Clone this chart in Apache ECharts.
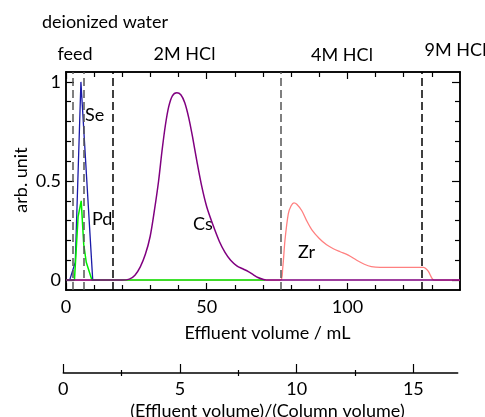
<!DOCTYPE html>
<html><head><meta charset="utf-8">
<script src="https://cdn.jsdelivr.net/npm/echarts@6/dist/echarts.min.js"></script>
<style>html,body{margin:0;padding:0;background:#fff}#c{width:485px;height:417px}</style>
</head><body><div id="c"></div>
<script>
// Data: [effluent volume (mL), arb. unit]
const seData = [[0,0],[1.3,0],[3.3,0.09],[5.3,1.0],[9.5,0],[12,0]];
const pdData = [[0,0],[3.0,0],[4.3,0.32],[5.4,0.40],[6.3,0.18],[7.2,0.09],[9.2,0],[70.8,0]];
const csData = [[0,0],[20,0],[22.5,0.005],[24.5,0.025],[26.4,0.067],[28.2,0.13],[29.9,0.22],[31.4,0.35],[32.9,0.5],[34.1,0.65],[35.3,0.78],[36.5,0.875],[37.8,0.93],[39.4,0.945],[40.8,0.935],[42.2,0.895],[43.6,0.82],[45,0.72],[46.5,0.6],[48.2,0.475],[50,0.37],[52.3,0.275],[54.5,0.195],[56.5,0.14],[58.5,0.1],[60.7,0.072],[62.8,0.057],[64.8,0.043],[66.5,0.028],[68.2,0.013],[70.2,0.003],[72,0],[140,0]];
const zrData = [[0,0],[76.2,0],[77,0.06],[77.8,0.2],[79,0.335],[80,0.375],[81,0.39],[82,0.383],[83.8,0.35],[85.5,0.3],[87.3,0.255],[90,0.21],[92.6,0.178],[95,0.158],[97.4,0.143],[100.3,0.126],[103.3,0.1],[106,0.08],[108.5,0.068],[111.6,0.064],[120,0.064],[127,0.064],[128.7,0.045],[130,0.01],[130.8,0],[140,0]];
const greyBoundaries = [2.5, 6.2, 76.3];
const blackBoundaries = [16.7, 126.5];
const xMajor = [0,50,100];
const xMinor = [10,20,30,40,60,70,80,90,110,120,130];
const yMajor = [0,0.5,1];
const yMinor = [0.1,0.2,0.3,0.4,0.6,0.7,0.8,0.9];
const cvMajor = [0,5,10,15];
const cvMinor = [2.5,7.5,12.5];
const xMin = 0, xMax = 140, yMin = -0.05, yMax = 1.05, cvMax = 16.9;

const FONT = 'Lato';
const FS = 18;
const black = '#000';

function xAx(pos, ticks, len, labels, extra) {
  return Object.assign({
    type:'value', gridIndex:0, position:pos, min:xMin, max:xMax,
    axisLine:{show:true, onZero:false, lineStyle:{color:black, width:1.5}},
    axisTick:{show:true, inside:true, length:len, customValues:ticks, lineStyle:{color:black, width:1.2}},
    axisLabel:labels ? {show:true, customValues:labels, color:black, fontFamily:FONT, fontSize:FS, margin:8} : {show:false},
    splitLine:{show:false}
  }, extra||{});
}
function yAx(pos, ticks, len, labels) {
  return {
    type:'value', gridIndex:0, position:pos, min:yMin, max:yMax,
    axisLine:{show:true, onZero:false, lineStyle:{color:black, width:1.5}},
    axisTick:{show:true, inside:true, length:len, customValues:ticks, lineStyle:{color:black, width:1.2}},
    axisLabel:labels ? {show:true, customValues:labels, color:black, fontFamily:FONT, fontSize:FS, margin:5} : {show:false},
    splitLine:{show:false}
  };
}
function bline(vals, color) {
  return vals.map(v => ({xAxis:v, lineStyle:{color:color, type:[8,4], width:1.5}}));
}

const chart = echarts.init(document.getElementById('c'), null, {renderer:'canvas'});
const txt = (t, x, y, extra) => ({type:'text', x:x, y:y, style:Object.assign({text:t, font:FS+'px '+FONT, fill:black, textVerticalAlign:'middle'}, extra||{})});

chart.setOption({
  animation:false,
  textStyle:{fontFamily:FONT},
  grid:[
    {left:66, right:25, top:72, bottom:127, containLabel:false},
    {left:63.3, right:27.3, top:372, height:1, containLabel:false}
  ],
  xAxis:[
    xAx('bottom', xMajor, 7, xMajor),
    xAx('bottom', xMinor, 5, null),
    xAx('top', xMajor, 7, null),
    xAx('top', xMinor, 5, null),
    {type:'value', gridIndex:1, position:'bottom', min:0, max:cvMax,
     axisLine:{show:true, lineStyle:{color:black, width:1.5}},
     axisTick:{show:true, inside:true, length:9, customValues:cvMajor, lineStyle:{color:black, width:1.2}},
     axisLabel:{show:true, customValues:cvMajor, color:black, fontFamily:FONT, fontSize:FS, margin:7},
     splitLine:{show:false}},
    {type:'value', gridIndex:1, position:'bottom', min:0, max:cvMax,
     axisLine:{show:false},
     axisTick:{show:true, inside:true, length:3, customValues:cvMinor, lineStyle:{color:black, width:1.2}},
     axisLabel:{show:false}, splitLine:{show:false}},
    {type:'value', gridIndex:1, position:'bottom', min:0, max:cvMax,
     axisLine:{show:false},
     axisTick:{show:true, inside:false, length:3, customValues:cvMinor, lineStyle:{color:black, width:1.2}},
     axisLabel:{show:false}, splitLine:{show:false}}
  ],
  yAxis:[
    yAx('left', yMajor, 8, yMajor),
    yAx('left', yMinor, 5, null),
    yAx('right', yMajor, 8, null),
    yAx('right', yMinor, 5, null),
    {type:'value', gridIndex:1, show:false, min:0, max:1}
  ],
  series:[
    {type:'line', name:'Zr', data:zrData, xAxisIndex:0, yAxisIndex:0, showSymbol:false, smooth:0.3,
     lineStyle:{color:'#ff8080', width:1.3}, z:2,
     markLine:{silent:true, symbol:'none', label:{show:false}, data:bline(greyBoundaries,'#555').concat(bline(blackBoundaries,'#000'))}},
    {type:'line', name:'Se', data:seData, xAxisIndex:0, yAxisIndex:0, showSymbol:false, lineStyle:{color:'#1a1aa8', width:1.3}, z:3},
    {type:'line', name:'Pd', data:pdData, xAxisIndex:0, yAxisIndex:0, showSymbol:false, lineStyle:{color:'#00ee00', width:1.5}, z:4},
    {type:'line', name:'Cs', data:csData, xAxisIndex:0, yAxisIndex:0, showSymbol:false, smooth:0.3, lineStyle:{color:'#800080', width:1.5}, z:5}
  ],
  graphic:[
    txt('deionized water', 42, 22),
    txt('feed', 75, 54, {textAlign:'center'}),
    txt('2M HCl', 184.5, 54, {textAlign:'center'}),
    txt('4M HCl', 342, 55, {textAlign:'center'}),
    txt('9M HCl', 455.5, 50, {textAlign:'center'}),
    txt('Se', 85, 115),
    txt('Pd', 92, 219),
    txt('Cs', 193, 224),
    txt('Zr', 298, 252),
    {type:'text', x:21, y:180, rotation:Math.PI/2, style:{text:'arb. unit', font:FS+'px '+FONT, fill:black, textAlign:'center', textVerticalAlign:'middle'}},
    txt('Effluent volume / mL', 267.5, 333, {textAlign:'center'}),
    txt('(Effluent volume)/(Column volume)', 267.5, 411, {textAlign:'center'})
  ]
});
</script></body></html>
